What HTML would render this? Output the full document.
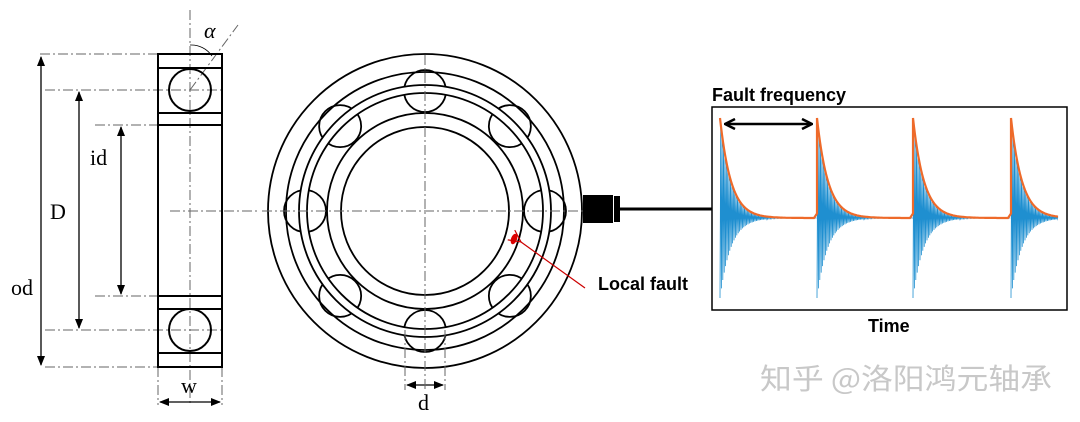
<!DOCTYPE html>
<html><head><meta charset="utf-8"><style>
html,body{margin:0;padding:0;background:#fff;width:1080px;height:422px;overflow:hidden}
svg{display:block}
.s{font-family:"Liberation Serif",serif;font-size:22px;fill:#000}
.b{font-family:"Liberation Sans",sans-serif;font-weight:bold;font-size:18px;fill:#000}
</style></head><body>
<svg id="sv" width="1080" height="422" viewBox="0 0 1080 422" xmlns="http://www.w3.org/2000/svg">
<defs>
<marker id="ah" markerWidth="10" markerHeight="10" refX="9" refY="5" orient="auto-start-reverse" markerUnits="userSpaceOnUse"><path d="M0,1 L10,5 L0,9 Z" fill="#000"/></marker>
<marker id="ah2" markerWidth="12" markerHeight="12" refX="11" refY="6" orient="auto-start-reverse" markerUnits="userSpaceOnUse"><path d="M1,1 L11,6 L1,11" fill="none" stroke="#000" stroke-width="2.5"/></marker>
<marker id="ahr" markerWidth="14" markerHeight="14" refX="1" refY="7" orient="auto" markerUnits="userSpaceOnUse"><path d="M13,1 L1,7 L13,13" fill="none" stroke="#c00" stroke-width="1.2"/></marker>
</defs>
<g stroke="#666" stroke-width="1" stroke-dasharray="10,3,2,3" fill="none">
<line x1="40" y1="54" x2="158" y2="54"/>
<line x1="45" y1="90" x2="222" y2="90"/>
<line x1="95" y1="125" x2="158" y2="125"/>
<line x1="95" y1="296" x2="158" y2="296"/>
<line x1="45" y1="330" x2="222" y2="330"/>
<line x1="45" y1="367" x2="158" y2="367"/>
<line x1="190" y1="10" x2="190" y2="405"/>
<line x1="170" y1="211" x2="260" y2="211"/>
<line x1="190" y1="90" x2="238" y2="25"/>
<line x1="158" y1="367" x2="158" y2="405"/>
<line x1="222" y1="367" x2="222" y2="405"/>
</g>
<path d="M190,45 A25,25 0 0 1 212,56" stroke="#000" stroke-width="0.8" fill="none"/>
<g stroke="#000" stroke-width="2" fill="none">
<rect x="158" y="54" width="64" height="313"/>
<line x1="158" y1="68" x2="222" y2="68"/>
<line x1="158" y1="113" x2="222" y2="113"/>
<line x1="158" y1="125" x2="222" y2="125"/>
<line x1="158" y1="296" x2="222" y2="296"/>
<line x1="158" y1="309" x2="222" y2="309"/>
<line x1="158" y1="353" x2="222" y2="353"/>
<circle cx="190" cy="90" r="21"/>
<circle cx="190" cy="330" r="21"/>
</g>
<g stroke="#000" stroke-width="1.3">
<line x1="41" y1="57" x2="41" y2="365" marker-start="url(#ah)" marker-end="url(#ah)"/>
<line x1="79" y1="92" x2="79" y2="328" marker-start="url(#ah)" marker-end="url(#ah)"/>
<line x1="121" y1="127" x2="121" y2="294" marker-start="url(#ah)" marker-end="url(#ah)"/>
<line x1="160" y1="402" x2="220" y2="402" marker-start="url(#ah)" marker-end="url(#ah)"/>
<line x1="407" y1="385" x2="443" y2="385" marker-start="url(#ah)" marker-end="url(#ah)"/>
</g>
<text class="s" x="204" y="38" font-style="italic">α</text>
<text class="s" x="90" y="165">id</text>
<text class="s" x="50" y="219">D</text>
<text class="s" x="11" y="295">od</text>
<text class="s" x="181" y="393">w</text>
<text class="s" x="418" y="410">d</text>
<g id="mid" stroke="#000" stroke-width="1.8" fill="none">
<circle cx="425" cy="211" r="157"/>
</g>
<g stroke="#666" stroke-width="1" stroke-dasharray="10,3,2,3" fill="none">
<line x1="262" y1="211" x2="590" y2="211"/>
<line x1="425" y1="55" x2="425" y2="390"/>
<line x1="405" y1="330" x2="405" y2="390"/>
<line x1="445" y1="330" x2="445" y2="390"/>
</g>
<rect x="583" y="195" width="30" height="28" fill="#000"/>
<rect x="614" y="196" width="6" height="26" fill="#000"/>
<line x1="620" y1="209" x2="712" y2="209" stroke="#000" stroke-width="3"/>
<ellipse cx="514" cy="239" rx="3" ry="5.5" fill="#d00" transform="rotate(20 514 239)"/>
<line x1="585" y1="288" x2="521" y2="242" stroke="#c00" stroke-width="1.2" marker-end="url(#ahr)"/>
<text class="b" x="598" y="290">Local fault</text>
<rect x="712" y="107" width="355" height="203" fill="none" stroke="#000" stroke-width="1.5"/>
<text class="b" x="712" y="101">Fault frequency</text>
<text class="b" x="868" y="332" font-size="17">Time</text>
<g id="sig"></g>
<line x1="725" y1="124" x2="812" y2="124" stroke="#000" stroke-width="2.5" marker-start="url(#ah2)" marker-end="url(#ah2)"/>
<text x="760" y="389" font-family="'Noto Sans CJK SC',sans-serif" font-size="29" fill="#c8c8c8" textLength="292" lengthAdjust="spacingAndGlyphs">知乎 @洛阳鸿元轴承</text>
</svg>
<script>
(function(){
var NS="http://www.w3.org/2000/svg",sv=document.getElementById('sv');
function el(t,a,p){var e=document.createElementNS(NS,t);for(var k in a)e.setAttribute(k,a[k]);(p||sv).appendChild(e);return e;}
var mid=document.getElementById('mid');
var cx=425,cy=211;
for(var i=0;i<8;i++){var a=i*Math.PI/4;el('circle',{cx:cx+120*Math.sin(a),cy:cy-120*Math.cos(a),r:21,fill:'#fff',stroke:'#000','stroke-width':1.8},mid);}
el('circle',{cx:cx,cy:cy,r:122,fill:'none',stroke:'#fff','stroke-width':8},mid);
[139,126,118,98,84].forEach(function(r){el('circle',{cx:cx,cy:cy,r:r,fill:'none',stroke:'#000','stroke-width':1.8},mid);});
var g=document.getElementById('sig');
var xs=[720,817,913,1011],base=218;
var d='',o='';
for(var k=0;k<4;k++){
 var x0=xs[k],x1=(k<3?xs[k+1]:1058);
 for(var x=x0;x<x1;x+=0.7){
  var t=x-x0,env=Math.exp(-t/11);
  var ph=Math.round((x-x0)/0.7)%2;
  var y=ph?base-100*env:base+80*env;
  d+=(x==x0?'M':'L')+x.toFixed(1)+','+y.toFixed(1);
 }
 for(var x=x0;x<=x1;x+=1){
  var t=x-x0,ey=base-100*Math.exp(-t/11);
  if(k<3&&x1-x<3)ey-=1.5*(3-(x1-x));
  o+=(o===''?'M':'L')+x+','+ey.toFixed(1);
 }
}
el('path',{d:d,fill:'none',stroke:'#1f8fd0','stroke-width':0.8},g);
el('path',{d:o,fill:'none',stroke:'#ee6a2a','stroke-width':2.2},g);
})();
</script>
</body></html>
